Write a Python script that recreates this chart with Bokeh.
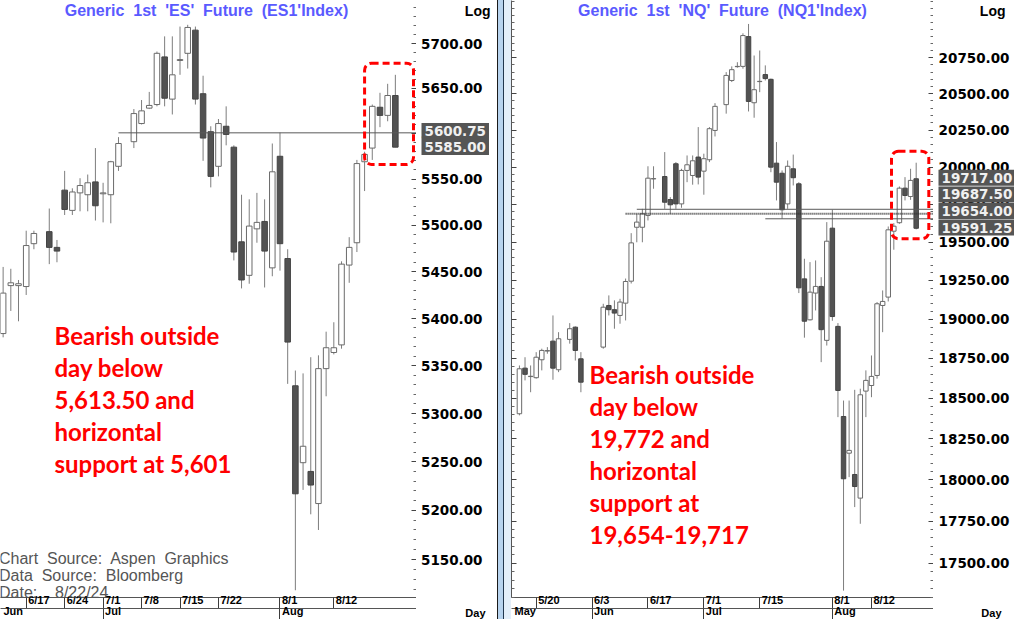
import numpy as np
from bokeh.plotting import figure
from bokeh.models import (ColumnDataSource, Range1d, FixedTicker, PrintfTickFormatter,
                          CustomJSTickFormatter, LogAxis, LinearAxis, Label, BoxAnnotation, Div)
from bokeh.layouts import row
from bokeh.embed import file_html
from bokeh.resources import INLINE

# ---------------- ES (Generic 1st 'ES' Future) ----------------
ES_DATES = ["2024-06-12", "2024-06-13", "2024-06-14", "2024-06-17", "2024-06-18", "2024-06-20",
            "2024-06-21", "2024-06-24", "2024-06-25", "2024-06-26", "2024-06-27", "2024-06-28",
            "2024-07-01", "2024-07-02", "2024-07-03", "2024-07-05", "2024-07-08", "2024-07-09",
            "2024-07-10", "2024-07-11", "2024-07-12", "2024-07-15", "2024-07-16", "2024-07-17",
            "2024-07-18", "2024-07-19", "2024-07-22", "2024-07-23", "2024-07-24", "2024-07-25",
            "2024-07-26", "2024-07-29", "2024-07-30", "2024-07-31", "2024-08-01", "2024-08-02",
            "2024-08-05", "2024-08-06", "2024-08-07", "2024-08-08", "2024-08-09", "2024-08-12",
            "2024-08-13", "2024-08-14", "2024-08-15", "2024-08-16", "2024-08-19", "2024-08-20",
            "2024-08-21", "2024-08-22"]
ES_OPEN = [5384, 5435, 5435, 5434, 5480, 5493, 5476, 5538, 5516, 5535, 5533, 5547, 5534, 5533,
           5564, 5591, 5611, 5628, 5632, 5685, 5638, 5681, 5689, 5715, 5644, 5602, 5564, 5608,
           5585, 5482, 5446, 5496, 5504, 5454, 5575, 5464, 5329, 5249, 5240, 5207, 5347, 5364,
           5372, 5457, 5481, 5569, 5584, 5629, 5620, 5642]
ES_HIGH = [5455, 5453, 5441, 5494, 5494, 5518, 5484, 5559, 5540, 5551, 5555, 5584, 5546, 5570,
           5596, 5627, 5637, 5646, 5691, 5708, 5708, 5719, 5721, 5719, 5664, 5608, 5616, 5630,
           5587, 5533, 5528, 5535, 5528, 5589, 5601, 5474, 5345, 5342, 5359, 5361, 5386, 5396,
           5461, 5487, 5571, 5580, 5632, 5645, 5655, 5665]
ES_LOW = [5380, 5408, 5397, 5425, 5474, 5458, 5460, 5511, 5511, 5515, 5515, 5505, 5503, 5502,
          5559, 5584, 5610, 5627, 5630, 5630, 5621, 5665, 5672, 5632, 5570, 5541, 5553, 5587,
          5462, 5432, 5437, 5481, 5433, 5445, 5451, 5331, 5119, 5221, 5196, 5180, 5318, 5362,
          5368, 5438, 5471, 5537, 5571, 5607, 5613.5, 5585]
ES_CLOSE = [5427, 5438, 5437, 5478, 5491, 5476, 5472, 5517, 5536, 5543, 5546, 5521, 5535, 5569,
            5589, 5622, 5625, 5631, 5689, 5639, 5665, 5682, 5718, 5638, 5595, 5553, 5611, 5599,
            5471, 5441, 5499, 5503, 5472, 5558, 5480, 5375, 5217, 5266, 5226, 5347, 5369, 5369,
            5458, 5476, 5567, 5577, 5630, 5620, 5642, 5585]
ES_LEVELS = [5600.75]
ES_LEVEL_FROM = ["2024-07-03"]
ES_LEVEL_STYLE = ["solid"]
ES_TAGS = ["5600.75", "5585.00"]
ES_Y_TICKS = [5150, 5200, 5250, 5300, 5350, 5400, 5450, 5500, 5550, 5600, 5650, 5700]
ES_DAY_TICKS = ["2024-06-17", "2024-06-24", "2024-07-01", "2024-07-08", "2024-07-15",
                "2024-07-22", "2024-08-01", "2024-08-12"]
ES_DAY_LABELS = ["6/17", "6/24", "7/1", "7/8", "7/15", "7/22", "8/1", "8/12"]
ES_MONTH_TICKS = ["2024-06-03", "2024-07-01", "2024-08-01"]
ES_MONTH_LABELS = ["Jun", "Jul", "Aug"]
ES_TITLE = "Generic\u00a0 1st\u00a0 'ES'\u00a0 Future\u00a0 (ES1'Index)"
ES_NOTE = ["Bearish outside", "day below", "5,613.50 and", "horizontal", "support at 5,601"]

# ---------------- NQ (Generic 1st 'NQ' Future) ----------------
NQ_DATES = ["2024-05-15", "2024-05-16", "2024-05-17", "2024-05-20", "2024-05-21", "2024-05-22",
            "2024-05-23", "2024-05-24", "2024-05-28", "2024-05-29", "2024-05-30", "2024-06-05",
            "2024-06-06", "2024-06-07", "2024-06-10", "2024-06-11", "2024-06-12", "2024-06-13",
            "2024-06-14", "2024-06-17", "2024-06-18", "2024-06-20", "2024-06-21", "2024-06-24",
            "2024-06-25", "2024-06-26", "2024-06-27", "2024-06-28", "2024-07-01", "2024-07-02",
            "2024-07-03", "2024-07-05", "2024-07-08", "2024-07-09", "2024-07-10", "2024-07-11",
            "2024-07-12", "2024-07-15", "2024-07-16", "2024-07-17", "2024-07-18", "2024-07-19",
            "2024-07-22", "2024-07-23", "2024-07-24", "2024-07-25", "2024-07-26", "2024-07-29",
            "2024-07-30", "2024-07-31", "2024-08-01", "2024-08-02", "2024-08-05", "2024-08-06",
            "2024-08-07", "2024-08-08", "2024-08-09", "2024-08-12", "2024-08-13", "2024-08-14",
            "2024-08-15", "2024-08-16", "2024-08-19", "2024-08-20", "2024-08-21", "2024-08-22"]
NQ_OPEN = [18404, 18689, 18636, 18629, 18742, 18797, 18860, 18679, 18871, 18949, 18748, 18822,
           19088, 19061, 19024, 19103, 19245, 19598, 19598, 19676, 19920, 19936, 19782, 20022,
           19753, 19977, 19943, 20067, 19972, 20049, 20248, 20425, 20592, 20688, 20690, 20899,
           20438, 20584, 20633, 20600, 20026, 19958, 19753, 19988, 19887, 19260, 18996, 19168,
           19211, 18865, 19592, 18954, 18387, 18161, 18031, 17888, 18545, 18580, 18643, 19088,
           19142, 19572, 19628, 19858, 19802, 19921]
NQ_HIGH = [18706, 18758, 18706, 18790, 18812, 18822, 19024, 18917, 18975, 18954, 18790, 19099,
           19153, 19121, 19131, 19262, 19559, 19687, 19720, 20005, 20005, 20101, 19798, 20033,
           19988, 20078, 20078, 20271, 20090, 20271, 20435, 20650, 20690, 20719, 20922, 20988,
           20766, 20801, 20697, 20605, 20169, 19977, 20044, 20084, 19898, 19391, 19369, 19380,
           19271, 19632, 19714, 18975, 18486, 18486, 18553, 18560, 18675, 18769, 19110, 19185,
           19603, 19625, 19869, 19932, 19988, 20029]
NQ_LOW = [18394, 18612, 18538, 18623, 18675, 18780, 18616, 18664, 18844, 18737, 18538, 18812,
          19024, 18939, 18971, 18992, 19230, 19499, 19499, 19643, 19854, 19720, 19687, 19720,
          19727, 19898, 19881, 19883, 19814, 20033, 20207, 20363, 20581, 20681, 20674, 20378,
          20335, 20511, 20592, 19965, 19776, 19654, 19720, 19876, 19168, 18882, 18992, 19056,
          18727, 18832, 18990, 18383, 17339, 18015, 17834, 17734, 18383, 18507, 18623, 18917,
          19114, 19450, 19621, 19776, 19780, 19584]
NQ_CLOSE = [18685, 18650, 18638, 18758, 18801, 18800, 18689, 18875, 18939, 18801, 18601, 19077,
            19061, 19039, 19110, 19243, 19495, 19632, 19687, 19925, 19922, 19764, 19747, 19753,
            19977, 20015, 20042, 19932, 20056, 20260, 20413, 20627, 20667, 20690, 20906, 20447,
            20528, 20586, 20605, 19999, 19898, 19714, 20005, 19928, 19202, 18987, 19174, 19211,
            18933, 19506, 19017, 18549, 18005, 18178, 17958, 18522, 18612, 18637, 19099, 19114,
            19581, 19605, 19858, 19809, 19910, 19591.25]
NQ_LEVELS = [19717.0, 19687.5, 19654.0]
NQ_LEVEL_FROM = ["2024-06-13", "2024-06-11", "2024-07-16"]
NQ_LEVEL_STYLE = ["solid", "dotted", "solid"]
NQ_TAGS = ["19717.00", "19687.50", "19654.00", "19591.25"]
NQ_Y_TICKS = [17500, 17750, 18000, 18250, 18500, 18750, 19000, 19250, 19500, 19750, 20000,
              20250, 20500, 20750]
NQ_DAY_TICKS = ["2024-05-20", "2024-06-03", "2024-06-17", "2024-07-01", "2024-07-15",
                "2024-08-01", "2024-08-12"]
NQ_DAY_LABELS = ["5/20", "6/3", "6/17", "7/1", "7/15", "8/1", "8/12"]
NQ_MONTH_TICKS = ["2024-05-01", "2024-06-03", "2024-07-01", "2024-08-01"]
NQ_MONTH_LABELS = ["May", "Jun", "Jul", "Aug"]
NQ_TITLE = "Generic\u00a0 1st\u00a0 'NQ'\u00a0 Future\u00a0 (NQ1'Index)"
NQ_NOTE = ["Bearish outside", "day below", "19,772 and", "horizontal", "support at", "19,654-19,717"]

SOURCE_LINES = ["Chart\u00a0 Source:\u00a0 Aspen\u00a0 Graphics", "Data\u00a0 Source:\u00a0 Bloomberg",
                "Date:\u00a0\u00a0\u00a0 8/22/24"]

# ---------------- layout helpers ----------------
FH = 597          # candle frame height
H = 619           # total height
FONT = "Liberation Sans"
AXFONT = "DejaVu Sans"
DATE_SIZE = 11


def sy(ref_y, fh=FH):
    return fh - ref_y


def bidx(dates, origin):
    return np.busday_count(np.datetime64(origin), np.array(dates, dtype="datetime64[D]")).astype(float)


EM = {"/": 0.278, "J": 0.556, "u": 0.611, "n": 0.611, "l": 0.278, "A": 0.722,
      "g": 0.611, "M": 0.833, "a": 0.556, "y": 0.556}


def text_w(s, size):
    return sum(EM.get(ch, 0.556) for ch in s) * size


def date_axis(ax, tick_dates, labels, origin, x_start, ppd, size=DATE_SIZE):
    ticks = bidx(tick_dates, origin)
    centers, overrides = [], {}
    for t, s in zip(ticks, labels):
        inside = t >= x_start
        base = t if inside else x_start
        gap = 2.0 if inside else 3.0
        c = float(base + (gap + text_w(s, size) / 2) / ppd)
        centers.append(c)
        overrides[c] = s
    ax.ticker = FixedTicker(ticks=centers, minor_ticks=[float(t) for t in ticks])
    ax.major_label_overrides = overrides
    ax.major_tick_in = 0
    ax.major_tick_out = 0
    ax.minor_tick_in = 0
    ax.minor_tick_out = 11
    ax.minor_tick_line_color = "#3c3c3c"
    ax.axis_line_color = "#555555"
    ax.major_label_standoff = -15
    ax.major_label_text_font = FONT
    ax.major_label_text_font_style = "bold"
    ax.major_label_text_font_size = f"{size}px"
    ax.major_label_text_color = "#000000"


def lab(p, x, y, text, **kw):
    p.add_layout(Label(x=x, y=y, x_units="screen", y_units="screen", text=text, **kw))


def edge_axis(p, yticks, minor, side):
    ax = LogAxis(ticker=FixedTicker(ticks=yticks, minor_ticks=minor),
                 formatter=CustomJSTickFormatter(code="return ''"),
                 major_label_standoff=0, major_tick_in=5, major_tick_out=0,
                 minor_tick_in=3, minor_tick_out=0, axis_line_color="#555555",
                 major_tick_line_color="#444444", minor_tick_line_color="#666666")
    p.add_layout(ax, side)


def candles(dates, o, h, l, c, origin, xr, yr, fw, yticks, minor_step, body_w,
            levels, level_from, level_style, day_ticks, day_labels, month_ticks, month_labels,
            left_axis):
    p = figure(frame_width=fw, frame_height=FH, x_range=Range1d(*xr), y_range=Range1d(*yr),
               y_axis_type="log", y_axis_location=None, output_backend="svg",
               toolbar_location=None, min_border_left=0, min_border_right=0,
               min_border_top=0, min_border_bottom=H - FH)
    p.xgrid.visible = False
    p.ygrid.visible = False
    p.outline_line_color = None
    p.background_fill_color = "white"
    p.border_fill_color = "white"

    o, h, l, c = map(np.asarray, (o, h, l, c))
    up = c >= o
    src = ColumnDataSource(dict(
        x=bidx(dates, origin), high=h, low=l,
        top=np.maximum(o, c), bottom=np.minimum(o, c),
        fill=np.where(up, "#ffffff", "#525252"),
        edge=np.where(up, "#6a6a6a", "#444444")))
    p.segment(x0="x", y0="low", x1="x", y1="high", source=src, line_color="#7d7d7d", line_width=1)
    p.vbar(x="x", width=body_w, top="top", bottom="bottom", source=src,
           fill_color="fill", line_color="edge", line_width=1)

    lx0 = bidx(level_from, origin)
    for style in ("solid", "dotted"):
        idx = [i for i, s in enumerate(level_style) if s == style]
        if not idx:
            continue
        ls = ColumnDataSource(dict(x0=[lx0[i] for i in idx], x1=[xr[1] + 5] * len(idx),
                                   y=[levels[i] for i in idx]))
        if style == "solid":
            p.segment(x0="x0", y0="y", x1="x1", y1="y", source=ls, line_color="#5a5a5a", line_width=1)
        else:
            p.segment(x0="x0", y0="y", x1="x1", y1="y", source=ls, line_color="#333333",
                      line_width=2, line_dash="1 1")

    lo, hi = yr
    minor = [float(v) for v in np.arange(np.floor(lo / minor_step) * minor_step, hi, minor_step)
             if v not in yticks]
    edge_axis(p, yticks, minor, "right")
    if left_axis:
        edge_axis(p, yticks, minor, "left")

    ppd = fw / (xr[1] - xr[0])
    date_axis(p.xaxis[0], day_ticks, day_labels, origin, xr[0], ppd)
    ma = LinearAxis()
    date_axis(ma, month_ticks, month_labels, origin, xr[0], ppd)
    p.add_layout(ma, "below")
    return p


def strip(yr_full, yticks, tags, tag_y, log_right, day_right, label_w):
    s = figure(frame_width=81, frame_height=H, x_range=Range1d(0, 81), y_range=Range1d(*yr_full),
               y_axis_type="log", x_axis_location=None, y_axis_location="left",
               output_backend="svg", toolbar_location=None,
               min_border_left=0, min_border_right=0, min_border_top=0, min_border_bottom=0)
    s.xgrid.visible = False
    s.ygrid.visible = False
    s.outline_line_color = None
    s.background_fill_color = "white"
    s.border_fill_color = "white"
    ax = s.yaxis[0]
    ax.ticker = FixedTicker(ticks=yticks)
    ax.formatter = PrintfTickFormatter(format="%.2f")
    ax.major_label_standoff = -int(round(5 + label_w))
    ax.major_tick_in = 0
    ax.major_tick_out = 0
    ax.minor_tick_in = 0
    ax.minor_tick_out = 0
    ax.axis_line_color = None
    ax.major_label_text_font = AXFONT
    ax.major_label_text_font_style = "bold"
    ax.major_label_text_font_size = "13.5px"
    ax.major_label_text_color = "#000000"
    for t, y in zip(tags, tag_y):
        lab(s, 5, sy(y, H), t, text_align="left", text_baseline="middle",
            text_font=AXFONT, text_font_style="bold", text_font_size="13.5px",
            text_color="#f0f0f0", background_fill_color="#555555", padding=(3, 3, 3, 3))
    lab(s, log_right, sy(10, H), "Log", text_align="right", text_baseline="middle",
        text_font=FONT, text_font_style="bold", text_font_size="14px", text_color="#000000")
    lab(s, day_right, sy(612, H), "Day", text_align="right", text_baseline="alphabetic",
        text_font=FONT, text_font_style="bold", text_font_size="11px", text_color="#000000")
    return s


# ---------------- ES panel ----------------
p1 = candles(ES_DATES, ES_OPEN, ES_HIGH, ES_LOW, ES_CLOSE, "2024-06-17",
             (-3.342, 50.75), (5111.7, 5748.4), 416, ES_Y_TICKS, 10, 0.72,
             ES_LEVELS, ES_LEVEL_FROM, ES_LEVEL_STYLE, ES_DAY_TICKS, ES_DAY_LABELS,
             ES_MONTH_TICKS, ES_MONTH_LABELS, left_axis=False)
p1.add_layout(BoxAnnotation(left=44.0, right=50.36, top=5678, bottom=5566,
                            fill_color=None, line_color="#ff0000", line_alpha=1.0, line_width=3,
                            line_dash="7 4", border_radius=7))
lab(p1, 206, sy(10), ES_TITLE, text_align="center", text_baseline="middle",
    text_font=FONT, text_font_style="bold", text_font_size="16px", text_color="#5a5aff")
for i, line in enumerate(ES_NOTE):
    lab(p1, 54, sy(335 + 32 * i), line, text_align="left", text_baseline="alphabetic",
        text_font="Lato", text_font_style="bold", text_font_size="24px", text_color="#ff0000")
for i, line in enumerate(SOURCE_LINES):
    lab(p1, -1.5, sy(558.3 + 16.7 * i), line, text_align="left", text_baseline="alphabetic",
        text_font=FONT, text_font_size="16px", text_color="#555555")

s1 = strip((5089.7, 5748.4), ES_Y_TICKS, ES_TAGS, [130.5, 146.5], 74, 69, 61.5)

# ---------------- NQ panel ----------------
p2 = candles(NQ_DATES, NQ_OPEN, NQ_HIGH, NQ_LOW, NQ_CLOSE, "2024-05-20",
             (-4.42, 71.10), (17298.7, 21154.6), 422, NQ_Y_TICKS, 50, 0.8,
             NQ_LEVELS, NQ_LEVEL_FROM, NQ_LEVEL_STYLE, NQ_DAY_TICKS, NQ_DAY_LABELS,
             NQ_MONTH_TICKS, NQ_MONTH_LABELS, left_axis=True)
p2.add_layout(BoxAnnotation(left=63.58, right=70.26, top=20107, bottom=19522,
                            fill_color=None, line_color="#ff0000", line_alpha=1.0, line_width=3,
                            line_dash="7 4", border_radius=7))
lab(p2, 722 - 511, sy(10), NQ_TITLE, text_align="center", text_baseline="middle",
    text_font=FONT, text_font_style="bold", text_font_size="16px", text_color="#5a5aff")
for i, line in enumerate(NQ_NOTE):
    lab(p2, 589 - 511, sy(374 + 32 * i), line, text_align="left", text_baseline="alphabetic",
        text_font="Lato", text_font_style="bold", text_font_size="24px", text_color="#ff0000")

s2 = strip((17170.8, 21154.6), NQ_Y_TICKS, NQ_TAGS, [177.3, 193.9, 210.5, 227.1], 72, 68, 70.9)

sep = Div(text="", width=14, height=H, margin=(0, 0, 0, 0),
          styles={"background": "linear-gradient(to right, #1a1a1a 0px, #1a1a1a 1px, #b7d3ee 1px, "
                                "#b7d3ee 6px, #21364d 6px, #21364d 7px, #e3eef9 7px, #e3eef9 14px)"})

layout = row(p1, s1, sep, p2, s2)
open("out.html", "w").write(file_html(layout, INLINE))
